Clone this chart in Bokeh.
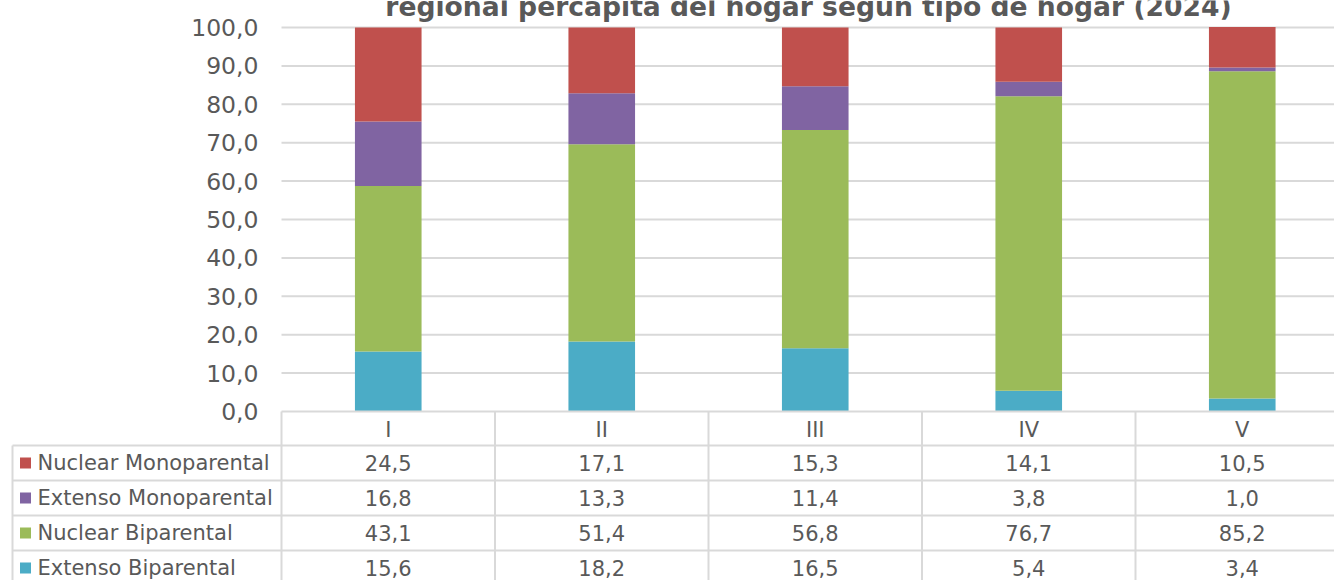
from bokeh.plotting import figure
from bokeh.models import ColumnDataSource, LinearAxis, FixedTicker, Range1d, Grid
from bokeh.core.properties import value
from bokeh.embed import file_html
from bokeh.resources import INLINE

# ---------------- data ----------------
title_text = "regional percapita del hogar según tipo de hogar (2024)"
categories = ["I", "II", "III", "IV", "V"]
series_names = ["Nuclear Monoparental", "Extenso Monoparental",
                "Nuclear Biparental", "Extenso Biparental"]
nuclear_mono = [24.5, 17.1, 15.3, 14.1, 10.5]
extenso_mono = [16.8, 13.3, 11.4, 3.8, 1.0]
nuclear_bi = [43.1, 51.4, 56.8, 76.7, 85.2]
extenso_bi = [15.6, 18.2, 16.5, 5.4, 3.4]
y_ticks = [0, 10, 20, 30, 40, 50, 60, 70, 80, 90, 100]

series_values = [nuclear_mono, extenso_mono, nuclear_bi, extenso_bi]
series_colors = ["#C0504D", "#8064A2", "#9BBB59", "#4BACC6"]

# ---------------- layout (pixels) ----------------
W, H = 1334, 580
PLOT_L = 281.0
COL_W = 213.5
Y0 = 411.0
PX_PER = 3.84
TABLE_L = 12.0
ROW_TOP = 445.0
ROW_H = 35.0
FONT = value("DejaVu Sans")
TXT = "#595959"
LINE = "#d9d9d9"


def X(px):
    return (px - PLOT_L) / COL_W


def Y(py):
    return (Y0 - py) / PX_PER


def fmt(v):
    return f"{v:.1f}".replace(".", ",")


p = figure(width=W, height=H, x_range=Range1d(X(0), X(W)), y_range=Range1d(Y(H), Y(0)),
           output_backend="svg", toolbar_location=None,
           x_axis_location=None, y_axis_location=None,
           min_border=0)
p.outline_line_color = None
p.background_fill_color = "white"
p.border_fill_color = "white"
for r in list(p.center):
    if isinstance(r, Grid):
        r.visible = False

# gridlines
grid_y = [t for t in y_ticks if t > 0]
p.segment(x0=[0] * len(grid_y), x1=[X(W)] * len(grid_y), y0=grid_y, y1=grid_y,
          line_color=LINE, line_width=2)

# stacked bars
xs = [i + 0.5 for i in range(len(categories))]
src = ColumnDataSource(dict(x=xs, eb=extenso_bi, nb=nuclear_bi, em=extenso_mono, nm=nuclear_mono))
p.vbar_stack(["eb", "nb", "em", "nm"], x="x", width=0.312, source=src,
             color=[series_colors[3], series_colors[2], series_colors[1], series_colors[0]],
             line_color=None)

# y axis
yax = LinearAxis(fixed_location=0, ticker=FixedTicker(ticks=y_ticks),
                 major_label_overrides={t: fmt(t) for t in y_ticks})
yax.axis_line_color = None
yax.major_tick_line_color = None
yax.minor_tick_line_color = None
yax.major_tick_out = 0
yax.major_tick_in = 0
yax.major_label_standoff = 23
yax.major_label_text_font = "DejaVu Sans"
yax.major_label_text_font_size = "23.5px"
yax.major_label_text_color = TXT
p.add_layout(yax, "left")

# x axis (category header row)
xax = LinearAxis(fixed_location=0, ticker=FixedTicker(ticks=xs),
                 major_label_overrides={x: c for x, c in zip(xs, categories)})
xax.axis_line_color = None
xax.major_tick_line_color = None
xax.minor_tick_line_color = None
xax.major_tick_out = 0
xax.major_tick_in = 0
xax.major_label_standoff = 6
xax.major_label_text_font = "DejaVu Sans"
xax.major_label_text_font_size = "21px"
xax.major_label_text_color = TXT
p.add_layout(xax, "below")

# table lines
hx0, hx1, hy = [X(PLOT_L)], [X(W)], [Y(Y0)]
for k in range(4):
    hx0.append(X(TABLE_L))
    hx1.append(X(W))
    hy.append(Y(ROW_TOP + k * ROW_H))
p.segment(x0=hx0, x1=hx1, y0=hy, y1=hy, line_color=LINE, line_width=2)
vx = [X(TABLE_L)] + [float(i) for i in range(len(categories))]
vy0 = [Y(ROW_TOP)] + [Y(Y0)] * len(categories)
vy1 = [Y(H)] * len(vx)
p.segment(x0=vx, x1=vx, y0=vy0, y1=vy1, line_color=LINE, line_width=2)

# table contents
row_y = [Y(ROW_TOP + (k + 0.5) * ROW_H) for k in range(len(series_names))]
p.scatter(x=[X(25)] * len(series_names), y=row_y, marker="square", size=11,
          color=series_colors, line_color=None)
p.text(x=[X(37)] * len(series_names), y=row_y, text=series_names,
       text_font=FONT, text_font_size="21px", text_color=TXT,
       text_align="left", text_baseline="middle")
tx, ty, tt = [], [], []
for k, vals in enumerate(series_values):
    for i, v in enumerate(vals):
        tx.append(xs[i])
        ty.append(row_y[k])
        tt.append(fmt(v))
p.text(x=tx, y=ty, text=tt, text_font=FONT, text_font_size="21px", text_color=TXT,
       text_align="center", text_baseline="middle")

# title (partially cut at top, as in the reference)
p.text(x=[X(808)], y=[Y(5.5)], text=[title_text], text_font=FONT, text_font_style="bold",
       text_font_size="26.6px", text_color=TXT, text_align="center", text_baseline="alphabetic")

open("out.html", "w").write(file_html(p, INLINE))
